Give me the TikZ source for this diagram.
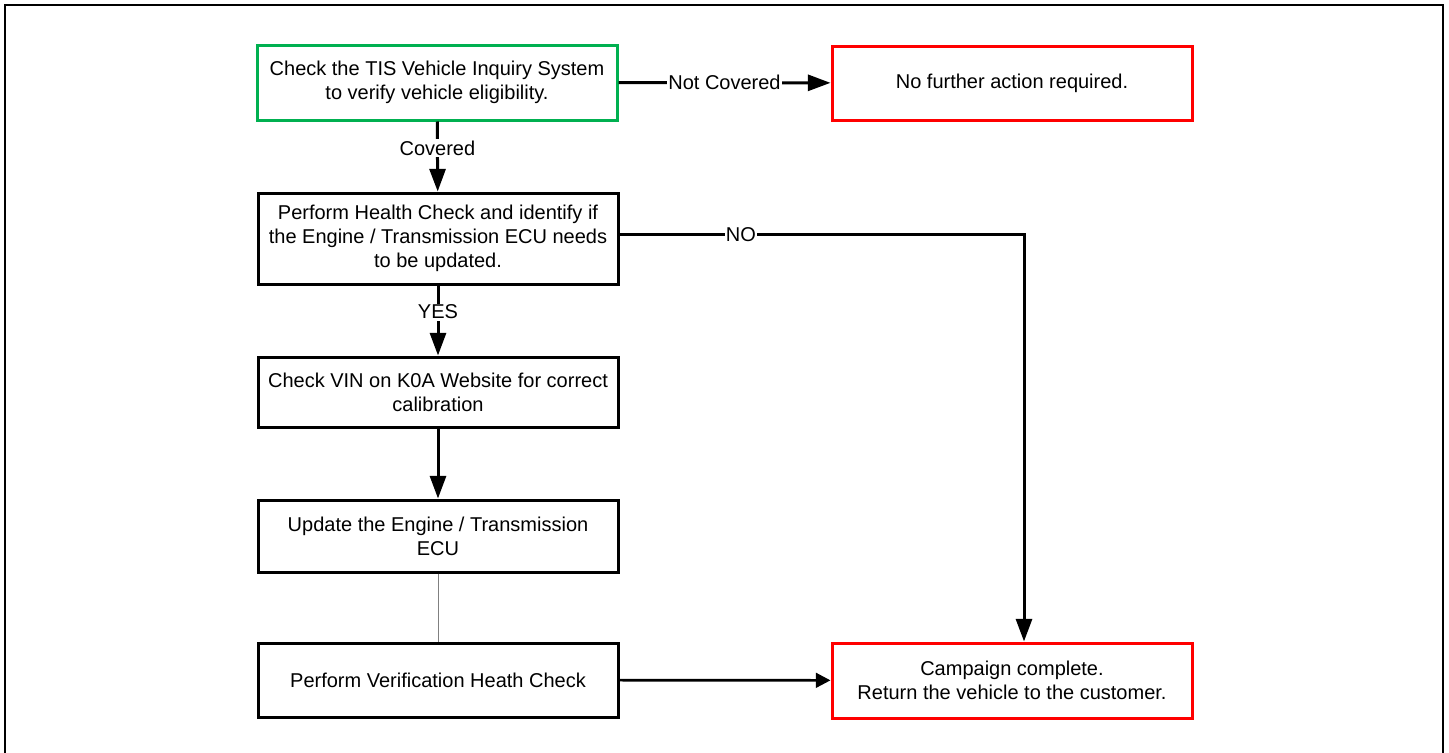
\documentclass[tikz,border=0pt]{standalone}
\usepackage{fontspec}
\setmainfont{Liberation Sans}
\usetikzlibrary{arrows.meta}
\definecolor{okgreen}{RGB}{0,176,80}
\definecolor{stopred}{RGB}{255,0,0}
\tikzset{
  stepbox/.style={draw=black, line width=2.25pt, rectangle, align=center,
    minimum width=270pt, inner sep=0pt, font=\fontsize{15}{18}\selectfont},
  flow/.style={line width=2.25pt, -{Triangle[length=17pt,width=12pt]}},
  lbl/.style={fill=white, inner sep=1pt, font=\fontsize{15}{18}\selectfont},
}
\begin{document}
\begin{tikzpicture}[x=0.75pt, y=-0.75pt]
    \useasboundingbox (0,0) rectangle (1449,753);
    \draw[line width=1.9pt] (5,753) -- (5,5) -- (1443,5) -- (1443,753);
    % left column
    \node[stepbox, draw=okgreen, minimum height=56.25pt] (tis) at (437,82.5)
        {Check the TIS Vehicle Inquiry System\\to verify vehicle eligibility.};
    \node[stepbox, minimum height=68.25pt] (health) at (438,238.5)
        {Perform Health Check and identify if\\the Engine / Transmission ECU needs\\to be updated.};
    \node[stepbox, minimum height=52.5pt] (vin) at (438,392)
        {Check VIN on K0A Website for correct\\calibration};
    \node[stepbox, minimum height=54pt] (update) at (438,536)
        {Update the Engine / Transmission\\ECU};
    \node[stepbox, minimum height=55.5pt] (verify) at (438,680)
        {Perform Verification Heath Check};
    % right column
    \node[stepbox, draw=stopred, minimum height=55.5pt] (nofurther) at (1012,83)
        {No further action required.};
    \node[stepbox, draw=stopred, minimum height=56.25pt] (campaign) at (1012,680.5)
        {Campaign complete.\\Return the vehicle to the customer.};
    % connectors
    \draw[flow] (tis) -- node[lbl]{Not Covered} (nofurther);
    \draw[flow] (tis) -- node[lbl, pos=0.38]{Covered} (health);
    \draw[flow] (health) -- node[lbl, pos=0.38]{YES} (vin);
    \draw[flow] ([yshift=3pt]health.east) -| node[lbl, pos=0.15]{NO} ([xshift=9pt]campaign.north);
    \draw[flow] (vin) -- (update);
    \draw[gray, line width=0.75pt] (update) -- (verify);
    \draw[line width=2pt, -{Triangle[length=11pt,width=11pt]}] (verify) -- (campaign);
\end{tikzpicture}
\end{document}
